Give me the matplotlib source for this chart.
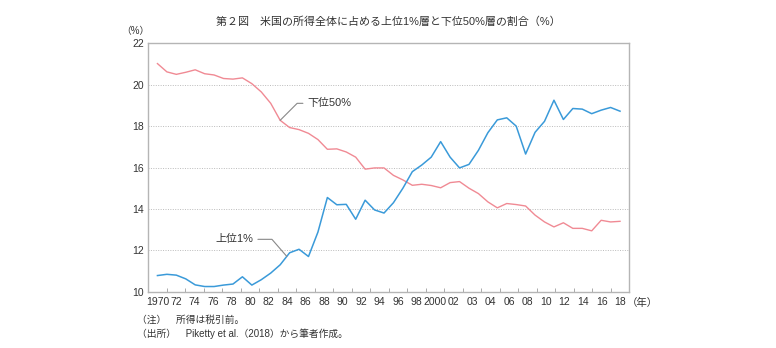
import numpy as np
import matplotlib
matplotlib.use('Agg')
import matplotlib.pyplot as plt

plt.rcParams['font.family'] = ['Liberation Sans', 'Noto Sans CJK JP', 'DejaVu Sans']

# data, 1970-2019
years = list(range(1970, 2020))
top1 = [10.78, 10.84, 10.80, 10.62, 10.33, 10.25, 10.25, 10.32, 10.37, 10.72,
        10.32, 10.58, 10.90, 11.30, 11.88, 12.05, 11.70, 12.88, 14.55, 14.20,
        14.22, 13.50, 14.42, 13.95, 13.80, 14.30, 15.00, 15.80, 16.12, 16.50,
        17.25, 16.50, 15.98, 16.15, 16.83, 17.68, 18.30, 18.40, 18.00, 16.65,
        17.70, 18.23, 19.25, 18.32, 18.85, 18.82, 18.60, 18.77, 18.90, 18.72]
bottom50 = [21.02, 20.62, 20.50, 20.60, 20.72, 20.53, 20.47, 20.30, 20.27, 20.33,
            20.05, 19.65, 19.10, 18.28, 17.93, 17.83, 17.65, 17.35, 16.88, 16.90,
            16.75, 16.50, 15.92, 15.98, 15.98, 15.62, 15.40, 15.14, 15.19, 15.13,
            15.02, 15.27, 15.32, 15.00, 14.74, 14.34, 14.05, 14.26, 14.21, 14.14,
            13.70, 13.37, 13.13, 13.33, 13.06, 13.06, 12.94, 13.45, 13.37, 13.40]

xlabels = ['1970', '72', '74', '76', '78', '80', '82', '84', '86', '88', '90',
           '92', '94', '96', '98', '2000', '02', '03', '04', '06', '08', '10',
           '12', '14', '16', '18']

title = '第２図　米国の所得全体に占める上位1%層と下位50%層の割合（%）'

red = '#F08A94'
blue = '#3A9AD9'
grey = '#AAAAAA'
txt = '#333333'

fig = plt.figure(figsize=(7.76, 3.48), dpi=100)
ax = fig.add_axes([148 / 776, 1 - 291.7 / 348, 481 / 776, 248.4 / 348])

ax.plot(years, bottom50, color=red, lw=1.0)
ax.plot(years, top1, color=blue, lw=1.1)

ax.set_xlim(1969.0, 2019.95)
ax.set_ylim(10, 22)
ax.set_yticks(range(10, 23, 2))
for v in range(12, 22, 2):
    ax.axhline(v, color='#BBBBBB', lw=0.7, ls=(0, (1, 1.5)), zorder=0)

pos = np.linspace(years[0], years[-1], len(xlabels))
ax.set_xticks(pos)
ax.set_xticklabels(xlabels)
ax.set_xticks((pos[:-1] + pos[1:]) / 2, minor=True)
ax.tick_params(axis='x', which='major', length=0, pad=4, labelsize=7.5, labelcolor=txt)
ax.tick_params(axis='x', which='minor', direction='in', length=3, color=grey, width=0.7)
ax.tick_params(axis='y', length=0, pad=3, labelsize=7.5, labelcolor=txt)

for s in ax.spines.values():
    s.set_color('#B5B5B5')
    s.set_linewidth(1.0)

ax.annotate('下位50%', xy=(1983, np.interp(1983, years, bottom50)),
            xytext=(1985.85, 19.1), ha='left', va='center', fontsize=7.9, color=txt,
            arrowprops=dict(arrowstyle='-', color='#888888', lw=0.8, shrinkA=1, shrinkB=0,
                            connectionstyle='angle,angleA=0,angleB=45,rad=0'))
ax.annotate('上位1%', xy=(1983.7, np.interp(1983.7, years, top1)),
            xytext=(1980.2, 12.53), ha='right', va='center', fontsize=7.9, color=txt,
            arrowprops=dict(arrowstyle='-', color='#888888', lw=0.8, shrinkA=1, shrinkB=0,
                            connectionstyle='angle,angleA=0,angleB=-49,rad=0'))

fig.text(388 / 776, 1 - 22 / 348, title, ha='center', va='center', fontsize=7.9, color=txt)
fig.text(135 / 776, 1 - 31 / 348, '（%）', ha='center', va='center', fontsize=7, color=txt)
fig.text(642 / 776, 1 - 303 / 348, '（年）', ha='center', va='center', fontsize=7.5, color=txt)
fig.text(137 / 776, 1 - 320 / 348, '（注）　所得は税引前。', ha='left', va='center',
         fontsize=7, color=txt)
fig.text(137 / 776, 1 - 334 / 348, '（出所）　Piketty et al.（2018）から筆者作成。',
         ha='left', va='center', fontsize=7, color=txt)

fig.savefig('out.png', dpi=100)
